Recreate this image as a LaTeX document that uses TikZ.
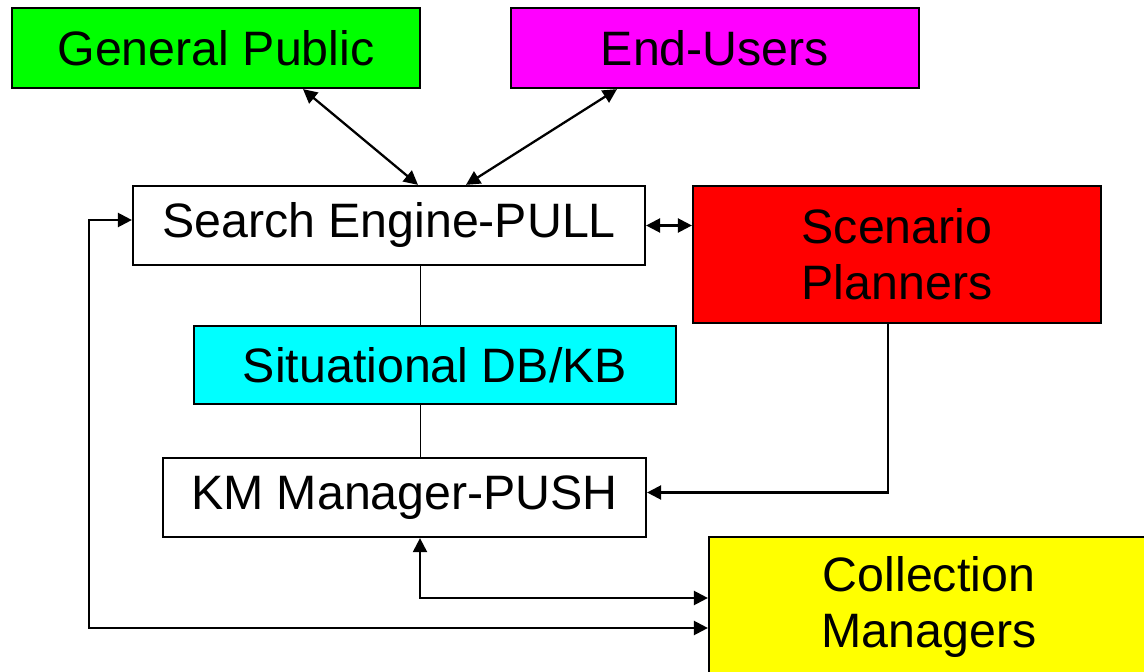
\documentclass[tikz,border=0pt]{standalone}
\usepackage{fontspec}
\setmainfont{Liberation Sans}
\usetikzlibrary{arrows.meta,calc}

\definecolor{pubgreen}{RGB}{0,255,0}
\definecolor{usermagenta}{RGB}{255,0,255}
\definecolor{planred}{RGB}{255,0,0}
\definecolor{dbcyan}{RGB}{0,255,255}
\definecolor{collyellow}{RGB}{255,255,0}

\tikzset{
  box/.style={draw,line width=1.3pt,inner sep=0pt,align=center,
    font=\fontsize{27.5}{32}\selectfont},
  link/.style={line width=1.3pt},
  >={Triangle[length=8pt,width=8pt]}
}

\begin{document}
\begin{tikzpicture}[x=0.02cm,y=-0.02cm]
        %\draw[very thin,gray,step=50] (0,0) grid (1144,672) ;
        \useasboundingbox (0,0) rectangle (1144,672) ;
        \node[box,fill=pubgreen,minimum width=8.16cm,minimum height=1.6cm]
          (gp) at (216,48) {General Public} ;
        \node[box,fill=usermagenta,minimum width=8.16cm,minimum height=1.6cm]
          (eu) at (715,48) {End-Users} ;
        \node[box,fill=white,minimum width=10.24cm,minimum height=1.58cm]
          (se) at (389,225.5) {Search Engine-PULL} ;
        \node[box,fill=planred,minimum width=8.16cm,minimum height=2.74cm]
          (sp) at (897,254.5) {Scenario\\Planners} ;
        \node[box,fill=dbcyan,minimum width=9.64cm,minimum height=1.56cm]
          (sdb) at (435,365) {Situational DB/KB} ;
        \node[box,fill=white,minimum width=9.66cm,minimum height=1.58cm]
          (km) at (404.5,497.5) {KM Manager-PUSH} ;
        \node[box,fill=collyellow,minimum width=8.8cm,minimum height=2.8cm]
          (cm) at (929,607) {Collection\\Managers} ;
        % links
        \draw[link,<->] ($(gp.south)+(87,0)$) -- ($(se.north)+(29,0)$) ;
        \draw[link,<->] ($(eu.south)+(-98,0)$) -- ($(se.north)+(77,0)$) ;
        \draw[link,<->] (se.east) -- (se.east -| sp.west) ;
        \draw[thin] ($(se.south)+(31,0)$) coordinate (v) -- (v |- sdb.north) ;
        \draw[thin] (v |- sdb.south) -- (v |- km.north) ;
        \draw[link,->] ($(sp.south)+(-9,0)$) |- ($(km.east)+(0,-5)$) ;
        \draw[link,<->] ($(km.south)+(15.5,0)$) |- ($(cm.west)+(0,-9)$) ;
        \draw[link,<->] ($(cm.west)+(0,21)$) -- ++(-619,0)
          |- ($(se.west)+(0,-5.5)$) ;
      \end{tikzpicture}
\end{document}
